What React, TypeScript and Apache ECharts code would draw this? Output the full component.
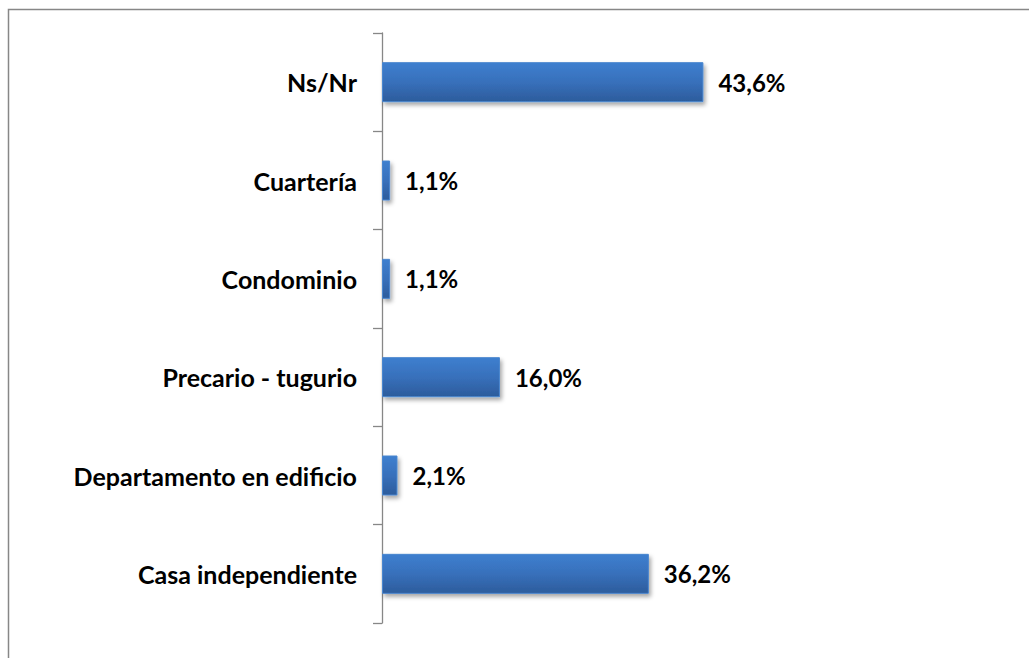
import React, { useEffect, useRef } from "react";
import * as echarts from "echarts";

const categories = [
  "Casa independiente",
  "Departamento en edificio",
  "Precario - tugurio",
  "Condominio",
  "Cuartería",
  "Ns/Nr",
];
const values = [36.2, 2.1, 16.0, 1.1, 1.1, 43.6];

const FONT = "Lato, 'Open Sans', sans-serif";

export default function App() {
  const ref = useRef<HTMLDivElement>(null);
  useEffect(() => {
    if (!ref.current) return;
    const chart = echarts.init(ref.current, null, { renderer: "svg" });
    chart.setOption({
      animation: false,
      backgroundColor: "#ffffff",
      graphic: [
        {
          type: "rect",
          shape: { x: 8.5, y: 9.5, width: 1100, height: 700 },
          style: { fill: "none", stroke: "#878787", lineWidth: 1.5 },
          silent: true,
        },
      ],
      grid: { left: 382, top: 33, bottom: 35, width: 368.6, containLabel: false },
      xAxis: {
        type: "value",
        min: 0,
        max: 50,
        show: false,
      },
      yAxis: {
        type: "category",
        data: categories,
        axisLine: { show: true, lineStyle: { color: "#878787", width: 1.3 } },
        axisTick: { show: true, length: 9, alignWithLabel: false, lineStyle: { color: "#878787", width: 1.3 } },
        axisLabel: {
          margin: 25,
          color: "#000000",
          fontWeight: "bold",
          fontSize: 25,
          fontFamily: FONT,
        },
        splitLine: { show: false },
      },
      series: [
        {
          type: "bar",
          data: values,
          barWidth: 40,
          itemStyle: {
            color: new echarts.graphic.LinearGradient(0, 0, 0, 1, [
              { offset: 0, color: "#3d7fcf" },
              { offset: 0.5, color: "#3870bb" },
              { offset: 1, color: "#2c5c9c" },
            ]),
            borderColor: "#4a86cf",
            borderWidth: 1,
            shadowBlur: 4,
            shadowColor: "rgba(0,0,0,0.35)",
            shadowOffsetX: 2,
            shadowOffsetY: 3,
          },
          label: {
            show: true,
            position: "right",
            distance: 15,
            color: "#000000",
            fontWeight: "bold",
            fontSize: 24,
            fontFamily: FONT,
            formatter: (p: any) => p.value.toFixed(1).replace(".", ",") + "%",
          },
        },
      ],
    });
    return () => chart.dispose();
  }, []);
  return (
    <div
      ref={ref}
      style={{ position: "fixed", left: 0, top: 0, width: 1029, height: 658 }}
    />
  );
}
